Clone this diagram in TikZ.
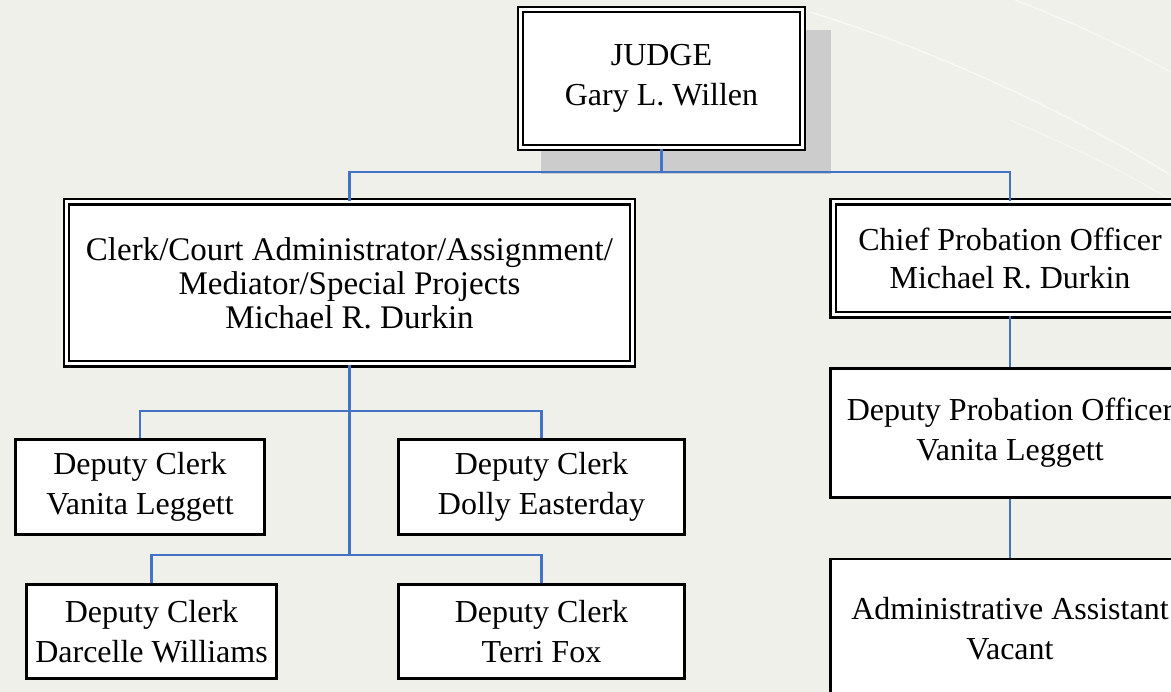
\documentclass[tikz,border=0pt]{standalone}
\usepackage{fontspec}
\setmainfont{Liberation Serif}
\usetikzlibrary{positioning}

\definecolor{bgcol}{RGB}{239,240,234}
\definecolor{linkblue}{RGB}{68,114,196}
\definecolor{shadowgray}{RGB}{204,204,204}

\tikzset{
  box/.style={draw,line width=2.8pt,fill=white,align=center,inner sep=0pt,
    font=\fontsize{32}{40}\selectfont},
  dbox/.style={box,double,double distance=3pt,line width=2.2pt},
  link/.style={draw=linkblue,line width=2.1pt},
}

\begin{document}
\begin{tikzpicture}[x=1pt,y=-1pt]
        \useasboundingbox (0,0) rectangle (1171,692);
        \clip (0,0) rectangle (1171,692);
        % Background
        \fill[bgcol] (0,0) rectangle (1171,692);
        \draw[white,opacity=.5,line width=1.5pt] (810,12) .. controls (950,55) and (1080,120) .. (1171,175);
        \draw[white,opacity=.45,line width=1.5pt] (1015,0) .. controls (1080,25) and (1130,50) .. (1171,72);
        \draw[white,opacity=.35,line width=1.5pt] (1010,120) .. controls (1080,150) and (1130,175) .. (1171,200);

        % Top: judge with shadow
        \fill[shadowgray] (541,30) rectangle (831,174);
        \node[dbox,minimum width=282,minimum height=138] (judge) at (661.5,78.5) {JUDGE\\Gary L. Willen};

        % Second level
        \node[dbox,minimum width=566,minimum height=162,font=\fontsize{33}{34}\selectfont] (clerk) at (349.5,283)
            {Clerk/Court Administrator/Assignment/\\Mediator/Special Projects\\Michael R. Durkin};
        \node[dbox,minimum width=354,minimum height=113,font=\fontsize{32}{38}\selectfont] (chief) at (1010,258.5)
            {Chief Probation Officer\\Michael R. Durkin};

        % Deputy clerks
        \node[box,minimum width=249,minimum height=95] (vanita) at (140,487) {Deputy Clerk\\Vanita Leggett};
        \node[box,minimum width=286,minimum height=95] (dolly) at (541.5,487) {Deputy Clerk\\Dolly Easterday};
        \node[box,minimum width=250,minimum height=94] (darcelle) at (151.5,631.5) {Deputy Clerk\\Darcelle Williams};
        \node[box,minimum width=286,minimum height=94] (terri) at (541.5,631.5) {Deputy Clerk\\Terri Fox};

        % Probation side
        \node[box,minimum width=359,minimum height=129] (dpo) at (1010,433) {Deputy Probation Officer\\Vanita Leggett};
        \node[box,minimum width=359,minimum height=140] (admin) at (1010,629) {Administrative Assistant\\Vacant};

        % Connectors
        \draw[link] (judge.south) -- ++(0,23) coordinate (jbus);
        \draw[link] (jbus) -| (clerk.north);
        \draw[link] (jbus) -| (chief.north);
        \draw[link] (clerk.south) -- ++(0,190) coordinate (cbus2);
        \path (clerk.south) ++(0,46) coordinate (cbus1);
        \draw[link] (cbus1) -| (vanita.north);
        \draw[link] (cbus1) -| (dolly.north);
        \draw[link] (cbus2) -| (darcelle.north);
        \draw[link] (cbus2) -| (terri.north);
        \draw[link] (chief.south) -- (dpo.north);
        \draw[link] (dpo.south) -- (admin.north);
    \end{tikzpicture}
\end{document}
